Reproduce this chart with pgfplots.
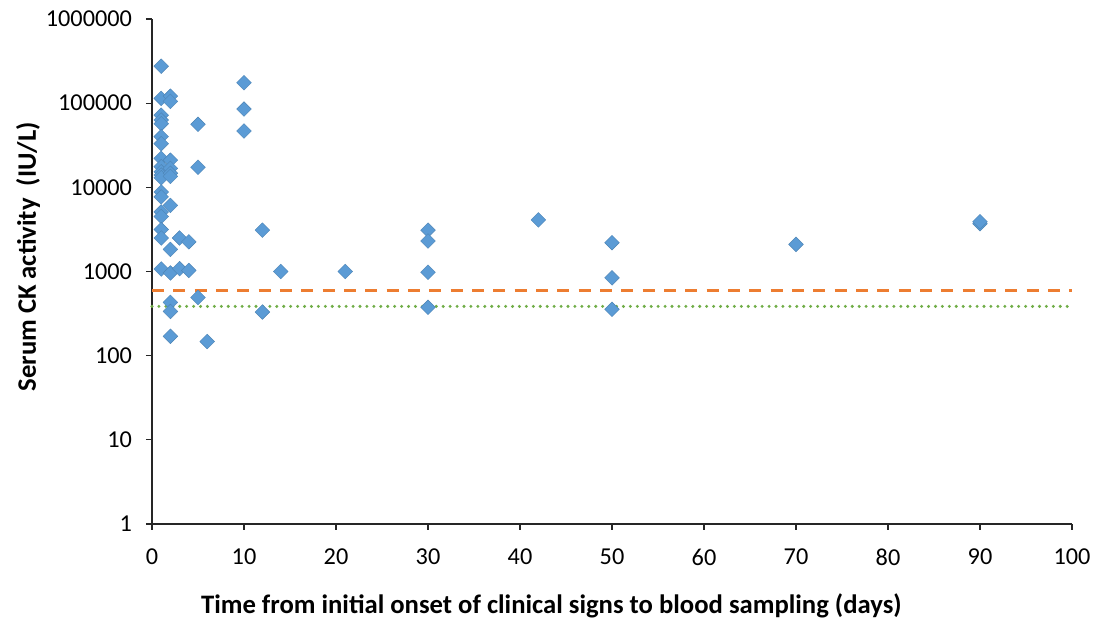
\documentclass[border=0pt]{standalone}
\usepackage{pgfplots}
\pgfplotsset{compat=1.18}
\usepackage{fontspec}
\setmainfont{Carlito}
\definecolor{ckblue}{HTML}{5B9BD5}
\definecolor{ckorange}{HTML}{ED7D31}
\definecolor{ckgreen}{HTML}{70AD47}
\begin{document}
\begin{tikzpicture}
\begin{axis}[
  scale only axis,
  width=690pt, height=378.75pt,
  xmin=0, xmax=100, ymin=1, ymax=1000000,
  ymode=log,
  axis lines=left,
  axis line style={draw=black!85, line width=0.8pt, -},
  xtick={0,10,...,100},
  ytick={1,10,100,1000,10000,100000,1000000},
  yticklabels={1,10,100,1000,10000,100000,1000000},
  minor ytick={}, 
  tick align=outside,
  major tick length=4.5pt,
  tick style={black!85, line width=0.8pt},
  every minor tick/.style={draw=none},
  /pgf/number format/assume math mode=true,
  ticklabel style={font=\fontsize{18.2}{21}\selectfont, text=black},
  xticklabel style={yshift=-10.5pt},
  yticklabel style={xshift=-7pt},
  xlabel={\textbf{Time from initial onset of clinical signs to blood sampling (days)}},
  ylabel={\textbf{Serum CK activity\ \ (IU/L)}},
  label style={font=\fontsize{20}{24}\selectfont},
  xlabel style={at={(axis description cs:0.434,0)}, anchor=center, yshift=-61.5pt},
  ylabel style={at={(axis description cs:0,0.529)}, anchor=center, yshift=93pt},
  clip=false,
]
\addplot[ckorange, line width=2.3pt, dash pattern=on 9pt off 7pt] coordinates {(0,600) (100,600)};
\addplot[ckgreen, line width=2.5pt, line cap=round, dash pattern=on 0pt off 5.2pt] coordinates {(0,385) (100,385)};
\addplot[only marks, mark=square*, mark size=3.9pt,
  mark options={rotate=45, fill=ckblue, draw=ckblue!85!black, line width=0.3pt}] coordinates {
(1,275000) (1,114000) (1,72000) (1,63000) (1,57000) (1,40000) (1,33000)
(1,22100) (1,17600) (1,15300) (1,14000) (1,13000) (1,8800) (1,7700)
(1,5100) (1,4500) (1,3150) (1,2500) (1,1070)
(2,121000) (2,105000) (2,21000) (2,16800) (2,14700) (2,13500) (2,6100)
(2,1830) (2,960) (2,430) (2,335) (2,170)
(3,2500) (3,1080)
(4,2250) (4,1030)
(5,56000) (5,17300) (5,490)
(6,147)
(10,175000) (10,85000) (10,46700)
(12,3100) (12,330)
(14,1000)
(21,1000)
(30,3100) (30,2300) (30,980) (30,375)
(42,4100)
(50,2200) (50,840) (50,355)
(70,2100)
(90,3700) (90,3900)
};
\end{axis}
\useasboundingbox (current axis.south west) ++(-114pt,-72.75pt) rectangle ([shift={(23.25pt,14.25pt)}]current axis.north east);
\end{tikzpicture}
\end{document}
